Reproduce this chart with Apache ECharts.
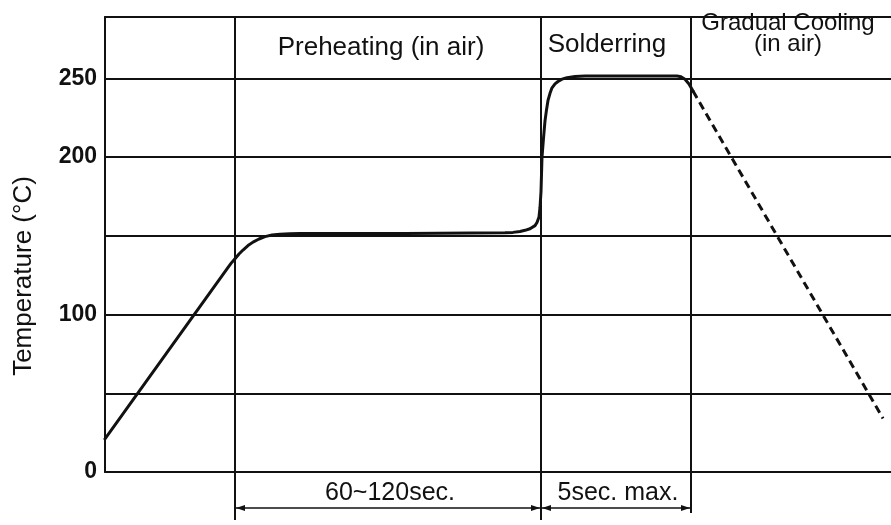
<!DOCTYPE html>
<html>
<head>
<meta charset="utf-8">
<script src="https://cdn.jsdelivr.net/npm/echarts@6/dist/echarts.min.js"></script>
<style>
html, body { margin: 0; padding: 0; background: #fff; }
#chart { width: 891px; height: 525px; }
</style>
</head>
<body>
<div id="chart"></div>
<script>
// time axis is schematic (no scale), temperature in °C
const profileX = [0, 122, 126, 130, 134, 138, 143, 148, 154, 160, 167, 175, 185, 195, 300, 400, 408, 415, 420, 425, 430, 432, 434, 435, 436, 437, 438.5, 440, 441.5, 443, 445, 447, 450, 453, 457, 462, 470, 480, 572, 576, 580, 584, 588];
const profileY = [21, 129, 132.5, 135.5, 138.5, 141, 143.8, 146, 148, 149.5, 150.5, 151, 151.4, 151.5, 151.5, 152, 152.2, 152.8, 153.5, 154.5, 156.5, 158.5, 162, 168, 178, 200, 212, 223, 230, 236, 240.5, 244, 246.5, 248, 249.5, 250.5, 251.2, 251.5, 251.5, 251, 249.5, 246.5, 242];
const coolingX = [588, 778];
const coolingY = [242, 34];
const stageBounds = [130, 436, 586];
const stageNames = ['Preheating (in air)', 'Solderring', 'Gradual Cooling\n(in air)'];
const spanLabels = ['60~120sec.', '5sec. max.'];
const yTicks = [0, 100, 200, 250];

const X_MAX = 786;
const Y_MAX = 289;
const ink = '#111';
const font = "'Liberation Sans', Arial, sans-serif";

let myChart = echarts.init(document.getElementById('chart'));

let option = {
    animation: false,
    grid: { left: 105, right: 0, top: 17, bottom: 53 },
    xAxis: [
        {
            type: 'value',
            min: 0,
            max: X_MAX,
            axisLine: { show: true, lineStyle: { color: ink, width: 2 } },
            axisTick: { show: false },
            axisLabel: { show: false },
            splitLine: { show: false }
        },
        {
            type: 'value',
            position: 'top',
            min: 0,
            max: X_MAX,
            axisLine: { show: true, lineStyle: { color: ink, width: 2 } },
            axisTick: { show: false },
            axisLabel: { show: false },
            splitLine: { show: false }
        }
    ],
    yAxis: {
        type: 'value',
        min: 0,
        max: Y_MAX,
        interval: 50,
        axisLine: { show: true, lineStyle: { color: ink, width: 2 } },
        axisTick: { show: false },
        axisLabel: {
            margin: 8,
            color: ink,
            fontFamily: font,
            fontWeight: 'bold',
            fontSize: 23,
            formatter: v => (yTicks.includes(v) ? String(v) : '')
        },
        splitLine: { show: true, lineStyle: { color: ink, width: 2 } }
    },
    series: [
        {
            type: 'line',
            data: profileX.map((x, i) => [x, profileY[i]]),
            symbol: 'none',
            lineStyle: { color: ink, width: 3, join: 'round', cap: 'round' },
            markLine: {
                silent: true,
                symbol: ['none', 'none'],
                label: { show: false },
                lineStyle: { color: ink, width: 2, type: 'solid' },
                data: stageBounds.map(v => ({ xAxis: v }))
            }
        },
        {
            type: 'line',
            data: coolingX.map((x, i) => [x, coolingY[i]]),
            symbol: 'none',
            lineStyle: { color: ink, width: 3, type: [8, 5] }
        }
    ]
};
myChart.setOption(option);

// annotations placed from the axes' own scales
const px = (x, y) => myChart.convertToPixel({ gridIndex: 0 }, [x, y]);
const baseY = px(0, 0)[1];
const topY = px(0, Y_MAX)[1];
const bx = stageBounds.map(v => px(v, 0)[0]);
const rightEdge = px(X_MAX, 0)[0];
const arrowY = baseY + 36;

let graphic = [];

// extension lines below the axis
bx.forEach((x, i) => {
    graphic.push({
        type: 'line',
        shape: { x1: x, y1: baseY, x2: x, y2: baseY + (i < 2 ? 48 : 41) },
        style: { stroke: ink, lineWidth: 2 }
    });
});

// dimension arrows
function arrow(x1, x2) {
    graphic.push({
        type: 'line',
        shape: { x1: x1, y1: arrowY, x2: x2, y2: arrowY },
        style: { stroke: ink, lineWidth: 1.5 }
    });
    graphic.push({
        type: 'polygon',
        shape: { points: [[x1 + 1, arrowY], [x1 + 10, arrowY - 3], [x1 + 10, arrowY + 3]] },
        style: { fill: ink }
    });
    graphic.push({
        type: 'polygon',
        shape: { points: [[x2 - 1, arrowY], [x2 - 10, arrowY - 3], [x2 - 10, arrowY + 3]] },
        style: { fill: ink }
    });
}
arrow(bx[0], bx[1]);
arrow(bx[1], bx[2]);

spanLabels.forEach((t, i) => {
    graphic.push({
        type: 'text',
        x: (bx[i] + bx[i + 1]) / 2 + 2,
        y: baseY + 21,
        style: { text: t, font: '25px ' + font, fill: ink, align: 'center', verticalAlign: 'middle' }
    });
});

// stage titles in the top band
const stageCenters = [(bx[0] + bx[1]) / 2 - 7, (bx[1] + bx[2]) / 2 - 9, (bx[2] + rightEdge) / 2 - 3];
const stageY = [topY + 31, topY + 28, topY + 17];
const stageSize = [26, 26, 24];
stageNames.forEach((t, i) => {
    graphic.push({
        type: 'text',
        x: stageCenters[i],
        y: stageY[i],
        style: {
            text: t,
            font: stageSize[i] + 'px ' + font,
            lineHeight: 21,
            fill: ink,
            align: 'center',
            verticalAlign: 'middle'
        }
    });
});

// axis title
graphic.push({
    type: 'text',
    x: 24,
    y: 276,
    rotation: Math.PI / 2,
    style: { text: 'Temperature (°C)', font: '26px ' + font, fill: ink, align: 'center', verticalAlign: 'middle' }
});

myChart.setOption({ graphic: graphic });
</script>
</body>
</html>
